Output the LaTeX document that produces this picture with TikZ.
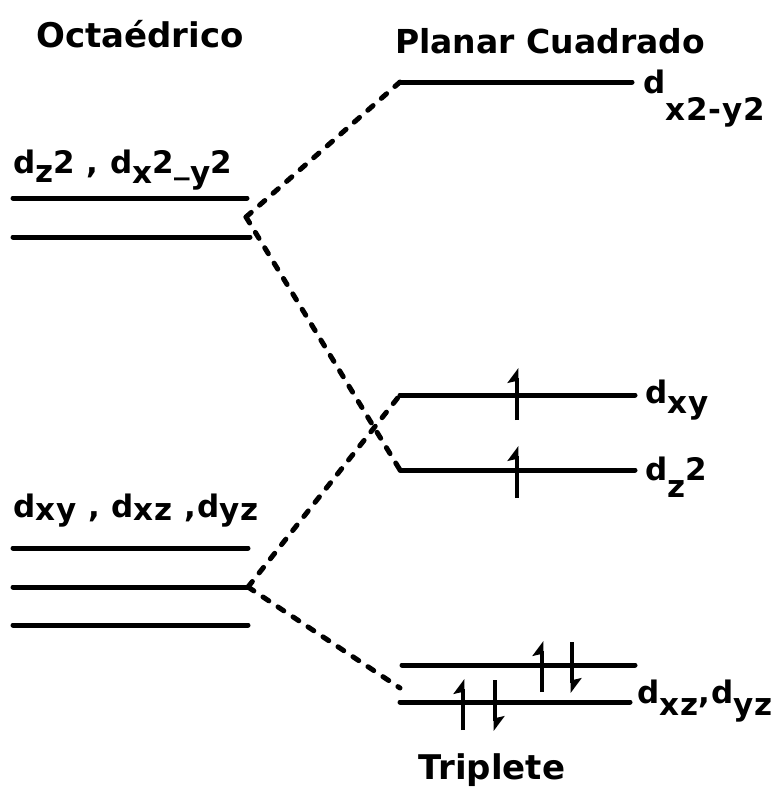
\documentclass[tikz,border=0pt]{standalone}
\usepackage{fontspec}
\setmainfont{DejaVu Sans}
\usetikzlibrary{arrows.meta}
\newcommand\lo[2][6pt]{\raisebox{-#1}{#2}}
\begin{document}
\begin{tikzpicture}[x=1pt,y=-1pt,
  lvl/.style={line width=5pt,line cap=round},
  conn/.style={line width=5pt,line cap=round,dash pattern=on 7pt off 11pt},
  elec/.style={line width=4.5pt,-{Stealth[harpoon,length=13pt,width=19pt,inset=2pt]}},
  ttl/.style={font=\fontsize{34}{40}\selectfont\bfseries,inner sep=0pt},
  lab/.style={font=\fontsize{31}{36}\selectfont\bfseries\addfontfeature{LetterSpace=3},inner sep=0pt}]
\useasboundingbox (0,0) rectangle (782,788);
% titles
\node[ttl,anchor=base west] (toct) at (36,47) {Octaédrico};
\node[ttl,anchor=base west,font=\fontsize{33}{40}\selectfont\bfseries] (tpc) at (395,53) {Planar Cuadrado};
\node[ttl,anchor=base] (ttrip) at (492,779) {Triplete};
% left levels
\coordinate (a1) at (13,198); \coordinate (b1) at (247,198);
\coordinate (a2) at (13,237); \coordinate (b2) at (250,237);
\coordinate (a3) at (13,548); \coordinate (b3) at (248,548);
\coordinate (a4) at (13,587); \coordinate (b4) at (248,587);
\coordinate (a5) at (13,625); \coordinate (b5) at (248,625);
\draw[lvl] (a1) -- (b1); \draw[lvl] (a2) -- (b2);
\draw[lvl] (a3) -- (b3); \draw[lvl] (a4) -- (b4); \draw[lvl] (a5) -- (b5);
% right levels
\coordinate (r1a) at (400,82);  \coordinate (r1b) at (632,82);
\coordinate (r2a) at (400,395); \coordinate (r2b) at (635,395);
\coordinate (r3a) at (400,470); \coordinate (r3b) at (635,470);
\coordinate (r4a) at (402,665); \coordinate (r4b) at (635,665);
\coordinate (r5a) at (400,702); \coordinate (r5b) at (630,702);
\draw[lvl] (r1a) -- (r1b); \draw[lvl] (r2a) -- (r2b); \draw[lvl] (r3a) -- (r3b);
\draw[lvl] (r4a) -- (r4b); \draw[lvl] (r5a) -- (r5b);
% connectors
\coordinate (eg) at (246,217);
\coordinate (t2g) at (248,587);
\coordinate (tend) at (400,688);
\draw[conn] (eg) -- (r1a);
\draw[conn] (eg) -- (r3a);
\draw[conn] (t2g) -- (r2a);
\draw[conn] (t2g) -- (tend);
% electrons
\coordinate (e1s) at (517,420); \coordinate (e1e) at (517,368);
\coordinate (e2s) at (517,498); \coordinate (e2e) at (517,446);
\coordinate (e3s) at (542,692); \coordinate (e3e) at (542,641);
\coordinate (e4s) at (572,642); \coordinate (e4e) at (572,693);
\coordinate (e5s) at (463,730); \coordinate (e5e) at (463,679);
\coordinate (e6s) at (495,680); \coordinate (e6e) at (495,731);
\draw[elec] (e1s) -- (e1e); \draw[elec] (e2s) -- (e2e);
\draw[elec] (e3s) -- (e3e); \draw[elec] (e4s) -- (e4e);
\draw[elec] (e5s) -- (e5e); \draw[elec] (e6s) -- (e6e);
% labels
\node[lab,anchor=base west] (lt) at (13,173) {d\lo[9pt]{z}2 , d\lo[10pt]{x}2\_\lo[10pt]{y}2};
\node[lab,anchor=base west] (lb) at (13,517) {d\lo[3pt]{xy} , d\lo[3pt]{xz} ,d\lo[3pt]{yz}};
\node[lab,anchor=base west] (l1) at (643,93) {d\lo[27pt]{x2-y2}};
\node[lab,anchor=base west] (l2) at (645,403) {d\lo[10pt]{xy}};
\node[lab,anchor=base west] (l3) at (645,480) {d\lo[17pt]{z}2};
\node[lab,anchor=base west] (l4) at (637,703) {d\lo[12pt]{xz},d\lo[12pt]{yz}};
\end{tikzpicture}
\end{document}
